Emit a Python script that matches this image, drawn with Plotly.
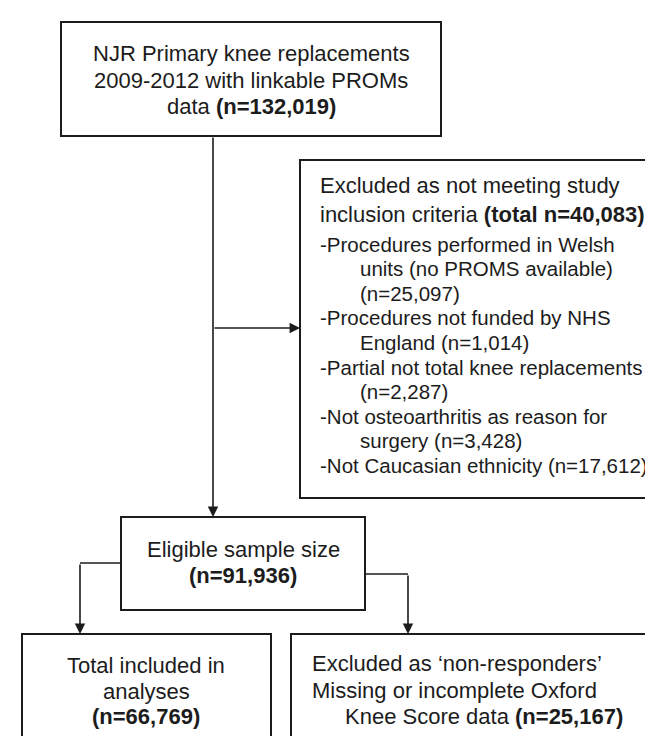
import plotly.graph_objects as go

W, H = 653, 736
FONT = "Liberation Sans, Arial, sans-serif"
INK = "#1c1c1c"

# counts shown in the flow diagram
n_primary = 132019
n_excluded = 40083
n_eligible = 91936
n_included = 66769
n_nonresp = 25167

exclusion_counts = [25097, 1014, 2287, 3428, 17612]
exclusion_reasons = [
    ["-Procedures performed in Welsh", "units (no PROMS available)", "(n={n})"],
    ["-Procedures not funded by NHS", "England (n={n})"],
    ["-Partial not total knee replacements", "(n={n})"],
    ["-Not osteoarthritis as reason for", "surgery (n={n})"],
    ["-Not Caucasian ethnicity (n={n})"],
]

# box geometry (x0, y0, x1, y1) in page pixels, y downwards
boxes = {
    "source": (53, 14, 433, 128),
    "excluded": (292, 152, 651, 490),
    "eligible": (113, 509, 357, 602),
    "included": (14, 626, 263, 745),
    "nonresp": (283, 626, 651, 745),
}


def fmt(n):
    return f"{n:,}"


def bold(s):
    return f"<b>{s}</b>"


fig = go.Figure()
annotations = []


def text(x, y, s, size=22, anchor="center"):
    annotations.append(dict(
        x=x, y=y, xref="x", yref="y", text=s, showarrow=False,
        xanchor=anchor, yanchor="middle",
        font=dict(family=FONT, size=size, color=INK),
    ))


def arrow(x0, y0, x1, y1):
    annotations.append(dict(
        x=x1, y=y1, ax=x0, ay=y0, xref="x", yref="y", axref="x", ayref="y",
        text="", showarrow=True, arrowhead=2, arrowsize=1.3, arrowwidth=1.6,
        arrowcolor=INK, standoff=0,
    ))


shapes = []
for x0, y0, x1, y1 in boxes.values():
    shapes.append(dict(type="rect", x0=x0, y0=y0, x1=x1, y1=y1, xref="x", yref="y",
                       line=dict(color=INK, width=2), fillcolor="white"))

# connector lines without heads
for (xa, ya, xb, yb) in [(113, 555, 72, 555), (357, 566, 400, 566)]:
    shapes.append(dict(type="line", x0=xa, y0=ya, x1=xb, y1=yb, xref="x", yref="y",
                       line=dict(color=INK, width=1.6)))

arrow(205, 128, 205, 509)
arrow(205, 320, 292, 320)
arrow(72, 555, 72, 626)
arrow(400, 566, 400, 626)

# top box
text(243, 45, "NJR Primary knee replacements")
text(243, 72, "2009-2012 with linkable PROMs")
text(243, 98, "data " + bold(f"(n={fmt(n_primary)})"))

# exclusion box
text(310, 177, "Excluded as not meeting study", anchor="left")
text(310, 206, "inclusion criteria " + bold(f"(total n={fmt(n_excluded)})"), anchor="left")
y = 236
for lines, n in zip(exclusion_reasons, exclusion_counts):
    for i, line in enumerate(lines):
        text(310 if i == 0 else 350, y, line.format(n=fmt(n)), size=20.5, anchor="left")
        y += 24.6

# eligible
text(235, 541, "Eligible sample size")
text(235, 567, bold(f"(n={fmt(n_eligible)})"))

# included
text(138, 657, "Total included in")
text(138, 683, "analyses")
text(138, 708, bold(f"(n={fmt(n_included)})"))

# non-responders
text(302, 655, "Excluded as \u2018non-responders\u2019", anchor="left")
text(302, 682, "Missing or incomplete Oxford", anchor="left")
text(335, 708, "Knee Score data " + bold(f"(n={fmt(n_nonresp)})"), anchor="left")

fig.update_layout(
    width=W, height=H, margin=dict(l=0, r=0, t=0, b=0),
    paper_bgcolor="white", plot_bgcolor="white",
    xaxis=dict(range=[0, W], visible=False, fixedrange=True),
    yaxis=dict(range=[H, 0], visible=False, fixedrange=True),
    shapes=shapes, annotations=annotations, showlegend=False,
)

fig.write_html("out.html")
